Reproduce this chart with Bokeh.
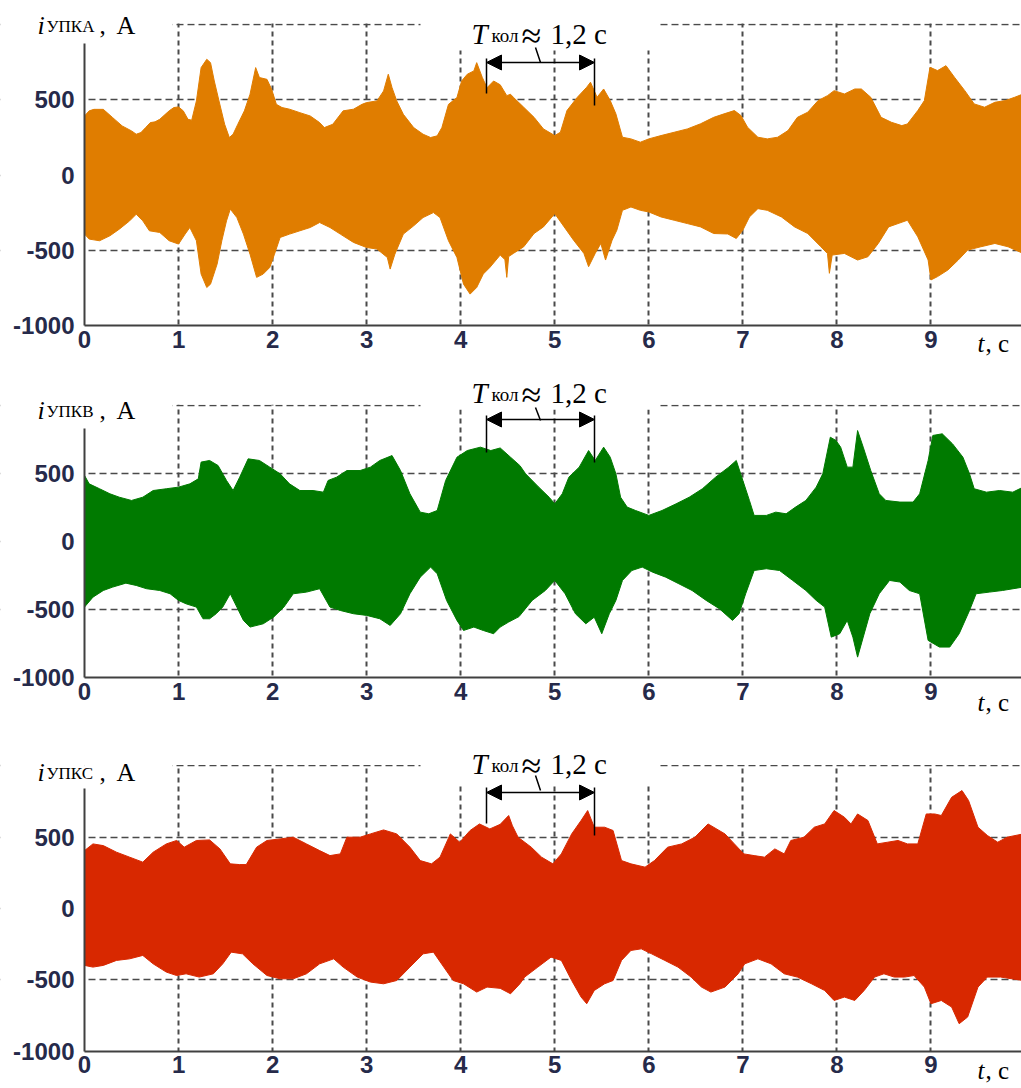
from bokeh.plotting import figure
from bokeh.models import Range1d, FixedTicker, Label, Arrow, NormalHead
from bokeh.layouts import column
from bokeh.embed import file_html
from bokeh.resources import INLINE

# ---------------- data (envelopes of the recorded currents, A) ----------------
x_ticks = [0, 1, 2, 3, 4, 5, 6, 7, 8, 9]
y_ticks = [-1000, -500, 0, 500]
y_tick_labels = ["-1000", "-500", "0", "500"]

# Phase A
a_t_up = [0.00, 0.05, 0.10, 0.20, 0.30, 0.40, 0.50, 0.55, 0.60, 0.65, 0.70, 0.75, 0.80, 0.90, 0.95,
          1.00, 1.05, 1.10, 1.14, 1.19, 1.24, 1.30, 1.34, 1.38, 1.43, 1.49, 1.54, 1.58, 1.63, 1.70,
          1.76, 1.82, 1.86, 1.94, 1.99, 2.04, 2.10, 2.18, 2.29, 2.40, 2.50, 2.55, 2.64, 2.75, 2.86,
          2.95, 3.00, 3.11, 3.18, 3.23, 3.27, 3.32, 3.39, 3.50, 3.60, 3.68, 3.75, 3.80, 3.87, 3.96,
          4.01, 4.07, 4.14, 4.17, 4.23, 4.28, 4.35, 4.42, 4.49, 4.53, 4.56, 4.67, 4.78, 4.88, 5.00,
          5.06, 5.13, 5.24, 5.34, 5.38, 5.45, 5.52, 5.59, 5.65, 5.72, 5.81, 5.91, 6.00, 6.13, 6.27,
          6.41, 6.55, 6.69, 6.80, 6.91, 6.98, 7.05, 7.16, 7.26, 7.37, 7.48, 7.58, 7.69, 7.80, 7.90,
          7.97, 8.08, 8.19, 8.26, 8.36, 8.47, 8.58, 8.69, 8.75, 8.86, 8.93, 8.99, 9.07, 9.16, 9.25,
          9.36, 9.46, 9.57, 9.68, 9.79, 9.89, 9.98]
a_up = [393, 427, 437, 437, 382, 327, 294, 272, 283, 316, 349, 354, 371, 427, 449,
        453, 427, 371, 365, 493, 714, 769, 747, 625, 493, 338, 250, 272, 338, 427,
        537, 714, 648, 636, 570, 470, 449, 438, 415, 393, 349, 316, 338, 427, 438,
        470, 482, 493, 559, 670, 581, 493, 404, 316, 272, 250, 261, 316, 470, 515,
        625, 670, 692, 747, 648, 581, 625, 600, 528, 537, 517, 451, 384, 307, 263,
        285, 429, 517, 584, 617, 517, 572, 495, 407, 252, 241, 219, 241, 263, 285,
        307, 341, 384, 407, 429, 396, 318, 252, 241, 252, 296, 384, 418, 495, 528,
        561, 539, 572, 572, 517, 384, 351, 329, 340, 429, 495, 716, 694, 727, 650,
        561, 473, 451, 484, 495, 517, 539]
a_t_lo = [0.00, 0.05, 0.16, 0.27, 0.37, 0.48, 0.55, 0.62, 0.69, 0.80, 0.90, 1.00, 1.07, 1.12, 1.19,
          1.24, 1.30, 1.34, 1.41, 1.46, 1.51, 1.55, 1.62, 1.69, 1.76, 1.83, 1.90, 1.97, 2.02, 2.08,
          2.18, 2.29, 2.40, 2.50, 2.61, 2.72, 2.86, 3.00, 3.11, 3.22, 3.25, 3.30, 3.39, 3.50, 3.60,
          3.71, 3.78, 3.87, 3.96, 4.03, 4.10, 4.17, 4.24, 4.31, 4.42, 4.47, 4.49, 4.51, 4.56, 4.67,
          4.78, 4.88, 5.00, 5.10, 5.20, 5.31, 5.36, 5.43, 5.49, 5.54, 5.61, 5.66, 5.72, 5.81, 5.91,
          6.00, 6.13, 6.27, 6.41, 6.55, 6.69, 6.84, 6.93, 7.00, 7.07, 7.16, 7.26, 7.41, 7.55, 7.69,
          7.83, 7.90, 7.92, 7.95, 8.08, 8.22, 8.33, 8.44, 8.55, 8.65, 8.75, 8.86, 8.97, 9.00, 9.07,
          9.18, 9.29, 9.39, 9.53, 9.68, 9.82, 9.98]
a_lo = [-391, -424, -435, -402, -358, -303, -259, -303, -369, -380, -435, -457, -391, -347, -435,
        -656, -745, -723, -590, -435, -303, -225, -281, -391, -524, -678, -656, -612, -524, -413,
        -391, -369, -347, -314, -347, -391, -446, -480, -490, -546, -623, -524, -391, -336, -281,
        -248, -281, -435, -546, -723, -789, -745, -656, -612, -530, -560, -678, -540, -519, -475,
        -387, -343, -255, -343, -431, -519, -607, -519, -453, -563, -431, -365, -233, -211, -233,
        -244, -277, -299, -321, -343, -387, -390, -420, -365, -277, -222, -233, -277, -343, -387,
        -475, -520, -651, -530, -519, -563, -541, -453, -343, -321, -299, -409, -563, -695, -673,
        -629, -563, -497, -475, -453, -475, -519]

# Phase B
b_t_up = [0.00, 0.05, 0.16, 0.27, 0.37, 0.50, 0.62, 0.73, 0.87, 1.00, 1.12, 1.21, 1.24, 1.33, 1.42,
          1.51, 1.58, 1.65, 1.74, 1.86, 1.97, 2.08, 2.18, 2.29, 2.43, 2.54, 2.59, 2.68, 2.79, 2.93,
          3.04, 3.14, 3.27, 3.36, 3.46, 3.57, 3.66, 3.75, 3.84, 3.96, 4.07, 4.21, 4.32, 4.42, 4.53,
          4.63, 4.69, 4.83, 4.94, 5.00, 5.08, 5.15, 5.26, 5.36, 5.43, 5.52, 5.59, 5.65, 5.70, 5.77,
          5.86, 6.00, 6.14, 6.29, 6.43, 6.57, 6.71, 6.85, 6.93, 7.00, 7.07, 7.12, 7.25, 7.35, 7.46,
          7.56, 7.67, 7.78, 7.85, 7.93, 7.99, 8.04, 8.11, 8.17, 8.22, 8.28, 8.36, 8.45, 8.52, 8.67,
          8.81, 8.88, 8.97, 9.02, 9.12, 9.23, 9.34, 9.41, 9.46, 9.59, 9.73, 9.87, 9.98]
b_up = [488, 426, 390, 353, 328, 304, 328, 377, 390, 402, 426, 463, 586, 598, 561,
        451, 377, 475, 610, 598, 549, 500, 426, 377, 377, 365, 451, 475, 524, 524,
        549, 598, 634, 524, 353, 218, 206, 230, 451, 622, 671, 696, 671, 690, 622,
        560, 500, 402, 328, 279, 353, 475, 549, 671, 598, 696, 622, 500, 328, 255,
        230, 194, 230, 279, 328, 390, 475, 549, 598, 451, 304, 194, 194, 218, 206,
        255, 304, 402, 500, 769, 745, 696, 549, 549, 818, 696, 524, 353, 304, 292,
        292, 353, 598, 782, 794, 720, 622, 500, 390, 365, 377, 365, 402]
b_t_lo = [0.00, 0.09, 0.20, 0.30, 0.44, 0.55, 0.66, 0.80, 0.91, 1.00, 1.08, 1.19, 1.26, 1.33, 1.40,
          1.47, 1.55, 1.62, 1.69, 1.76, 1.90, 2.01, 2.12, 2.22, 2.36, 2.50, 2.61, 2.72, 2.86, 3.00,
          3.14, 3.25, 3.36, 3.46, 3.57, 3.68, 3.75, 3.85, 3.96, 4.03, 4.14, 4.24, 4.35, 4.42, 4.51,
          4.62, 4.76, 4.90, 5.00, 5.11, 5.22, 5.33, 5.42, 5.50, 5.58, 5.65, 5.72, 5.82, 5.93, 6.04,
          6.18, 6.32, 6.46, 6.61, 6.75, 6.89, 6.96, 7.03, 7.12, 7.25, 7.39, 7.53, 7.67, 7.78, 7.87,
          7.94, 8.03, 8.11, 8.17, 8.22, 8.28, 8.35, 8.45, 8.56, 8.67, 8.77, 8.88, 8.97, 9.09, 9.20,
          9.30, 9.41, 9.48, 9.62, 9.76, 9.98]
b_lo = [-480, -407, -358, -333, -304, -321, -345, -358, -382, -431, -456, -480, -566, -566, -529,
        -480, -382, -480, -578, -627, -603, -554, -480, -382, -370, -345, -480, -505, -529, -541,
        -566, -615, -529, -382, -260, -186, -235, -431, -578, -652, -627, -652, -676, -627, -590,
        -550, -431, -358, -284, -382, -529, -603, -554, -676, -529, -431, -284, -211, -186, -223,
        -260, -309, -358, -431, -492, -578, -529, -382, -211, -198, -211, -284, -358, -431, -480,
        -701, -676, -578, -701, -848, -701, -529, -382, -284, -296, -358, -382, -725, -774, -774,
        -676, -505, -382, -370, -358, -333]

# Phase C
c_t_up = [0.00, 0.09, 0.20, 0.34, 0.48, 0.62, 0.73, 0.87, 0.98, 1.06, 1.19, 1.33, 1.44, 1.55, 1.65,
          1.72, 1.83, 1.94, 2.08, 2.22, 2.36, 2.50, 2.61, 2.72, 2.79, 2.93, 3.04, 3.18, 3.32, 3.46,
          3.57, 3.69, 3.78, 3.89, 3.99, 4.10, 4.20, 4.31, 4.42, 4.51, 4.55, 4.61, 4.75, 4.86, 4.98,
          5.07, 5.18, 5.28, 5.35, 5.42, 5.53, 5.62, 5.71, 5.81, 5.96, 6.06, 6.20, 6.35, 6.49, 6.63,
          6.81, 6.91, 7.01, 7.12, 7.23, 7.34, 7.44, 7.51, 7.65, 7.76, 7.87, 7.97, 8.08, 8.15, 8.22,
          8.33, 8.43, 8.54, 8.65, 8.75, 8.86, 8.95, 9.04, 9.11, 9.22, 9.33, 9.40, 9.50, 9.60, 9.71,
          9.81, 9.98]
c_up = [406, 453, 441, 395, 360, 325, 395, 453, 477, 430, 477, 481, 418, 313, 308,
        308, 430, 477, 488, 500, 453, 406, 371, 383, 500, 500, 523, 551, 523, 430,
        336, 313, 360, 523, 465, 547, 593, 558, 590, 652, 580, 500, 430, 360, 313,
        383, 523, 617, 687, 570, 570, 547, 336, 313, 290, 336, 430, 453, 500, 593,
        523, 453, 383, 371, 360, 418, 383, 477, 500, 570, 593, 687, 640, 593, 663,
        617, 453, 465, 477, 453, 453, 663, 663, 652, 780, 827, 757, 570, 512, 465,
        500, 523]
c_t_lo = [0.00, 0.09, 0.20, 0.34, 0.48, 0.62, 0.73, 0.87, 0.98, 1.08, 1.22, 1.37, 1.47, 1.56, 1.68,
          1.79, 1.94, 2.08, 2.22, 2.36, 2.50, 2.65, 2.75, 2.90, 3.04, 3.18, 3.32, 3.46, 3.60, 3.71,
          3.82, 3.92, 4.03, 4.17, 4.28, 4.42, 4.53, 4.63, 4.68, 4.82, 4.96, 5.07, 5.18, 5.28, 5.34,
          5.42, 5.53, 5.62, 5.71, 5.81, 5.92, 6.03, 6.17, 6.31, 6.45, 6.56, 6.66, 6.81, 6.95, 7.02,
          7.16, 7.30, 7.44, 7.58, 7.73, 7.87, 7.97, 8.08, 8.19, 8.29, 8.40, 8.50, 8.61, 8.72, 8.82,
          8.93, 9.00, 9.11, 9.22, 9.30, 9.39, 9.50, 9.60, 9.74, 9.98]
c_lo = [-399, -411, -399, -364, -353, -329, -388, -446, -470, -458, -481, -458, -388, -306, -318,
        -388, -470, -493, -493, -458, -388, -353, -411, -481, -516, -528, -505, -411, -318, -306,
        -411, -505, -528, -586, -551, -560, -598, -528, -481, -411, -341, -364, -505, -621, -668,
        -575, -528, -505, -364, -294, -283, -318, -364, -411, -481, -551, -586, -551, -458, -388,
        -353, -388, -458, -481, -528, -575, -645, -621, -645, -575, -481, -458, -481, -481, -470,
        -551, -668, -645, -691, -808, -761, -551, -481, -481, -505]

# ---------------- layout (reference pixel geometry) ----------------
X0_PX, X_SCALE = 84.0, 94.05          # pixel of t=0 and pixels per second
PAGE_LEFT, PAGE_RIGHT = 0.0, 1021.0
FIG_W = 1021
TEXT_SHIFT = 8                        # label baseline correction, px

TICK_COLOR = "#262a4a"
GRID_COLOR = "#4a4a4a"
SPINE_COLOR = "#404040"
SERIF = "Liberation Serif"
SANS = "Liberation Sans"


def px_x(px):
    return (px - X0_PX) / X_SCALE


panels = [
    dict(color="#E07D00", sub="УПКА", t_up=a_t_up, up=a_up, t_lo=a_t_lo, lo=a_lo,
         fig_top=0, fig_h=360, top_px=24.0, bot_px=325.4,
         i_base=33, spine_top=43, T_base=41, arrow_y=62, bar_top=58, bar_l=93, bar_r=105,
         lead=(535, 47, 540, 62), cover_b=50, tc_base=351),
    dict(color="#007A00", sub="УПКВ", t_up=b_t_up, up=b_up, t_lo=b_t_lo, lo=b_lo,
         fig_top=360, fig_h=360, top_px=405.3, bot_px=677.3,
         i_base=418, spine_top=428, T_base=400, arrow_y=419, bar_top=415, bar_l=452, bar_r=462,
         lead=(535, 407, 540, 420), cover_b=409, tc_base=710),
    dict(color="#D82800", sub="УПКС", t_up=c_t_up, up=c_up, t_lo=c_t_lo, lo=c_lo,
         fig_top=720, fig_h=368, top_px=765.4, bot_px=1050.6,
         i_base=780, spine_top=788, T_base=771, arrow_y=792, bar_top=787, bar_l=823, bar_r=835,
         lead=(535, 775, 540, 790), cover_b=783, tc_base=1078),
]


def make_panel(c):
    s = (c["bot_px"] - c["top_px"]) / 2000.0

    def py(px):
        return 1000.0 - (px - c["top_px"]) / s

    x_start, x_end = px_x(PAGE_LEFT), px_x(PAGE_RIGHT)
    y_end, y_start = py(c["fig_top"]), py(c["fig_top"] + c["fig_h"])

    p = figure(width=FIG_W, height=c["fig_h"], output_backend="svg", toolbar_location=None,
               x_range=Range1d(x_start, x_end), y_range=Range1d(y_start, y_end),
               min_border=0, min_border_left=0, min_border_right=0,
               min_border_top=0, min_border_bottom=0,
               background_fill_color="white", border_fill_color="white")
    p.outline_line_color = None

    # axes drawn at t=0 and i=-1000 (MATLAB-like L-shaped box)
    p.xaxis.fixed_location = -1000
    p.yaxis.fixed_location = 0
    p.xaxis.ticker = FixedTicker(ticks=x_ticks)
    p.yaxis.ticker = FixedTicker(ticks=y_ticks)
    p.yaxis.major_label_overrides = {v: t for v, t in zip(y_ticks, y_tick_labels)}
    p.xaxis.bounds = (0, x_end)
    p.yaxis.bounds = (-1000, py(c["spine_top"]))
    for ax in (p.xaxis[0], p.yaxis[0]):
        ax.axis_line_color = SPINE_COLOR
        ax.axis_line_width = 2
        ax.major_tick_line_color = None
        ax.minor_tick_line_color = None
        ax.major_tick_in = 0
        ax.major_tick_out = 0
        ax.major_label_text_font = SANS
        ax.major_label_text_font_style = "bold"
        ax.major_label_text_font_size = "24px"
        ax.major_label_text_color = TICK_COLOR
    p.xaxis.major_label_standoff = 5
    p.yaxis.major_label_standoff = 10

    # grid
    p.xgrid.ticker = FixedTicker(ticks=x_ticks[1:])
    p.ygrid.ticker = FixedTicker(ticks=[-500, 0, 500, 1000])
    p.xgrid.bounds = (x_start, x_end)
    p.ygrid.bounds = (y_start, y_end)
    p.xgrid.grid_line_color = GRID_COLOR
    p.xgrid.grid_line_dash = "5 4"
    p.xgrid.grid_line_width = 2
    p.ygrid.grid_line_color = GRID_COLOR
    p.ygrid.grid_line_dash = "7 4"
    p.ygrid.grid_line_width = 1.5

    # signal band
    xs = list(c["t_up"]) + list(reversed(c["t_lo"]))
    ys = list(c["up"]) + list(reversed(c["lo"]))
    p.patch(xs, ys, fill_color=c["color"], line_color=c["color"], line_width=1)

    # white masks: outside the axes box and behind the texts
    top_mask = py(c["top_px"] - 1)
    p.quad(left=[x_start, 0, 0, 0, px_x(420)],
           right=[0, x_end, x_end, px_x(172), px_x(659)],
           bottom=[y_start, y_start, top_mask, py(c["top_px"] + 4), py(c["cover_b"])],
           top=[y_end, -1000, y_end, y_end, y_end],
           fill_color="white", line_color=None)

    # period marker
    xl, xr = px_x(486), px_x(594)
    p.segment(x0=[xl, xr], y0=[py(c["bar_top"]), py(c["bar_top"])],
              x1=[xl, xr], y1=[py(c["bar_l"]), py(c["bar_r"])],
              line_color="black", line_width=1.5)
    lx0, ly0, lx1, ly1 = c["lead"]
    p.segment(x0=[px_x(lx0)], y0=[py(ly0)], x1=[px_x(lx1)], y1=[py(ly1)],
              line_color="black", line_width=1.5)
    p.add_layout(Arrow(start=NormalHead(size=15, fill_color="black", line_color="black"),
                       end=NormalHead(size=15, fill_color="black", line_color="black"),
                       x_start=xl, y_start=py(c["arrow_y"]), x_end=xr, y_end=py(c["arrow_y"]),
                       line_color="black", line_width=1.5))

    def lab(text, left_px, base_px, size, style="normal", font=SERIF):
        p.add_layout(Label(x=px_x(left_px), y=py(base_px - TEXT_SHIFT), text=text, text_font=font,
                           text_font_size=size, text_font_style=style, text_color="black",
                           text_align="left", text_baseline="alphabetic"))

    # y label  i_УПК?, A
    lab("i", 37, c["i_base"], "26px", "italic")
    lab(c["sub"], 46, c["i_base"] + 1, "17px")
    lab(",", 99, c["i_base"], "25px")
    lab("А", 116, c["i_base"], "26px")
    # T_кол ≈ 1,2 с
    lab("T", 471, c["T_base"], "29px", "italic")
    lab("кол", 491, c["T_base"] + 2, "19px")
    lab("≈", 521, c["T_base"] + 2, "36px")
    lab("1,2 с", 550, c["T_base"], "29px")
    # t, с
    lab("t", 977, c["tc_base"], "25px", "italic")
    lab(", с", 985, c["tc_base"], "25px")
    return p


figs = [make_panel(c) for c in panels]
layout = column(*figs, spacing=0)
open("out.html", "w").write(file_html(layout, INLINE))
